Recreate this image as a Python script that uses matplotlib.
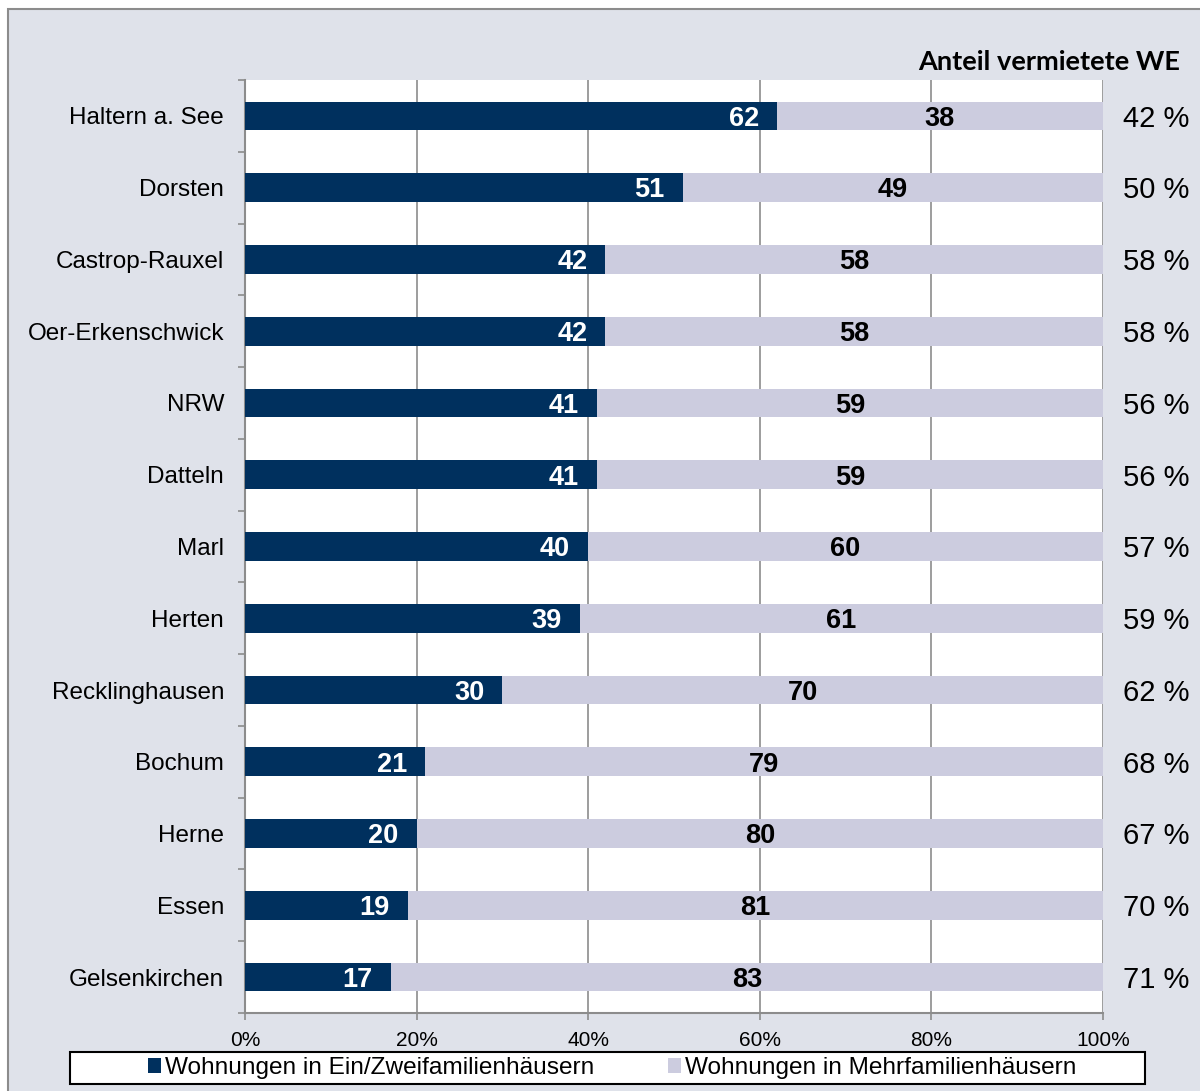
import numpy as np
import matplotlib.pyplot as plt
from matplotlib.patches import Rectangle

staedte = ["Haltern a. See", "Dorsten", "Castrop-Rauxel", "Oer-Erkenschwick", "NRW",
           "Datteln", "Marl", "Herten", "Recklinghausen", "Bochum", "Herne", "Essen",
           "Gelsenkirchen"]
ein_zwei = [62, 51, 42, 42, 41, 41, 40, 39, 30, 21, 20, 19, 17]
mehr = [38, 49, 58, 58, 59, 59, 60, 61, 70, 79, 80, 81, 83]
vermietet = [42, 50, 58, 58, 56, 56, 57, 59, 62, 68, 67, 70, 71]

dunkel = "#00305e"
hell = "#ccccdf"
hintergrund = "#dfe2ea"
grau = "#8c8c8c"

plt.rcParams["font.family"] = ["Liberation Sans", "DejaVu Sans"]

fig = plt.figure(figsize=(12, 10.91), dpi=100)
fig.patch.set_facecolor("white")
W, H = 1200, 1091

# grey panel with border behind everything
fig.patches.append(Rectangle((8 / W, -0.01), 1.01, 1 - 9 / H + 0.01, transform=fig.transFigure,
                             facecolor=hintergrund, edgecolor=grau, linewidth=1.5, zorder=-10))

ax = fig.add_axes([245 / W, 1 - 1013 / H, (1103 - 245) / W, (1013 - 80) / H])
ax.set_facecolor("white")

y = np.arange(len(staedte))
b1 = ax.barh(y, ein_zwei, height=0.4, color=dunkel, label="Wohnungen in Ein/Zweifamilienhäusern", zorder=3)
b2 = ax.barh(y, mehr, left=ein_zwei, height=0.4, color=hell, label="Wohnungen in Mehrfamilienhäusern", zorder=3)

for i in range(len(staedte)):
    ax.annotate(str(ein_zwei[i]), (ein_zwei[i], y[i]), xytext=(-13, -2), textcoords="offset points",
                ha="right", va="center", color="white", fontsize=19.5, fontweight="bold", zorder=4)
    ax.annotate(str(mehr[i]), (ein_zwei[i] + mehr[i] / 2, y[i]), xytext=(0, -2), textcoords="offset points",
                ha="center", va="center", color="black", fontsize=19.5, fontweight="bold", zorder=4)
    ax.annotate(f"{vermietet[i]} %", (100, y[i]), xytext=(62, -2), textcoords="offset points",
                ha="right", va="center", fontsize=21, annotation_clip=False)

ax.set_xlim(0, 100)
ax.set_ylim(len(staedte) - 0.5, -0.5)
ax.set_xticks([0, 20, 40, 60, 80, 100])
ax.set_xticklabels(["0%", "20%", "40%", "60%", "80%", "100%"], fontsize=15)
ax.set_yticks(y)
ax.set_yticklabels(staedte, fontsize=17.5)
ax.set_yticks(np.arange(len(staedte) + 1) - 0.5, minor=True)
ax.tick_params(axis="y", which="major", length=0, pad=15)
ax.tick_params(axis="y", which="minor", length=5, width=1.2, color=grau, direction="out")
ax.tick_params(axis="x", which="major", length=5, width=1.2, color=grau, pad=8)

ax.grid(axis="x", color=grau, linewidth=1.2, zorder=0)
for s in ["top", "right"]:
    ax.spines[s].set_visible(False)
for s in ["left", "bottom"]:
    ax.spines[s].set_color(grau)
    ax.spines[s].set_linewidth(1.5)

fig.text(1180 / W, 1 - 62 / H, "Anteil vermietete WE", ha="right", va="center",
         fontsize=19.5, fontweight="bold", family="Lato")

# legend box across the bottom
fig.patches.append(Rectangle((70 / W, 1 - 1084 / H), (1145 - 70) / W, 32 / H, transform=fig.transFigure,
                             facecolor="white", edgecolor="black", linewidth=1.5, zorder=5))
leg = fig.legend(handles=[b1, b2], loc="center", bbox_to_anchor=(612 / W, 1 - 1068 / H), ncol=2,
                 frameon=False, fontsize=17.6, handlelength=0.55, handleheight=0.55,
                 handletextpad=0.15, columnspacing=3.0, borderpad=0)
leg.set_zorder(6)

fig.savefig("out.png", dpi=100, facecolor=fig.get_facecolor())
